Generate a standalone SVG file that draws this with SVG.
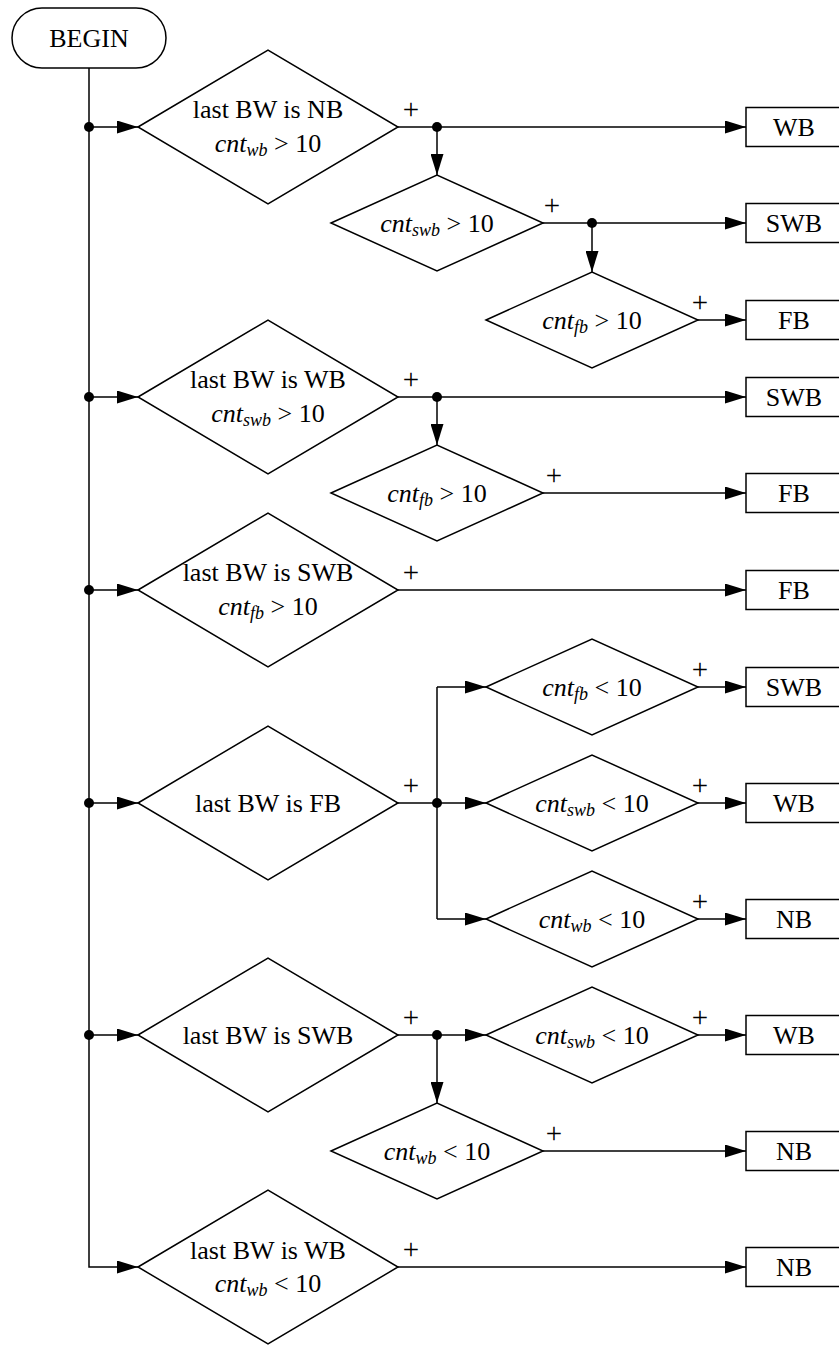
<svg xmlns="http://www.w3.org/2000/svg" width="839" height="1345" viewBox="0 0 839 1345">
<style>
.s{fill:none;stroke:#000;stroke-width:1.5}
.n{fill:#fff;stroke:#000;stroke-width:1.5}
.a{fill:none;stroke:#000;stroke-width:1.5;marker-end:url(#ah)}
text{font-family:"Liberation Serif","Times New Roman",serif;font-size:26px;fill:#000;text-anchor:middle}
.i{font-style:italic}
.sub{font-style:italic;font-size:18px}
.p{font-size:29px}
</style>
<defs>
<marker id="ah" markerUnits="userSpaceOnUse" markerWidth="21" markerHeight="13" refX="21" refY="6.5" orient="auto">
<path d="M0,0 L21,6.5 L0,13 z" fill="#000"/>
</marker>
</defs>
<rect width="839" height="1345" fill="#fff"/>
<g id="connectors">
<path class="s" d="M89,68 V1267 H118"/>
<path class="a" d="M89,127 H138"/>
<path class="a" d="M89,397 H138"/>
<path class="a" d="M89,590 H138"/>
<path class="a" d="M89,803 H138"/>
<path class="a" d="M89,1035 H138"/>
<path class="a" d="M118,1267 H138"/>
<path class="a" d="M398,127 H746"/>
<path class="a" d="M437,127 V175"/>
<path class="a" d="M543,223 H746"/>
<path class="a" d="M592,223 V272"/>
<path class="a" d="M698,320 H746"/>
<path class="a" d="M398,397 H746"/>
<path class="a" d="M437,397 V445"/>
<path class="a" d="M543,493 H746"/>
<path class="a" d="M398,590 H746"/>
<path class="a" d="M398,803 H486"/>
<path class="s" d="M437,687 V919"/>
<path class="a" d="M437,687 H486"/>
<path class="a" d="M437,919 H486"/>
<path class="a" d="M698,687 H746"/>
<path class="a" d="M698,803 H746"/>
<path class="a" d="M698,919 H746"/>
<path class="a" d="M398,1035 H486"/>
<path class="a" d="M437,1035 V1103"/>
<path class="a" d="M698,1035 H746"/>
<path class="a" d="M543,1151 H746"/>
<path class="a" d="M398,1267 H746"/>
<circle cx="89" cy="127" r="5"/>
<circle cx="89" cy="397" r="5"/>
<circle cx="89" cy="590" r="5"/>
<circle cx="89" cy="803" r="5"/>
<circle cx="89" cy="1035" r="5"/>
<circle cx="437" cy="127" r="5"/>
<circle cx="592" cy="223" r="5"/>
<circle cx="437" cy="397" r="5"/>
<circle cx="437" cy="803" r="5"/>
<circle cx="437" cy="1035" r="5"/>
<text class="p" x="411" y="119">+</text>
<text class="p" x="552" y="215">+</text>
<text class="p" x="700" y="312">+</text>
<text class="p" x="411" y="389">+</text>
<text class="p" x="554" y="485">+</text>
<text class="p" x="411" y="582">+</text>
<text class="p" x="700" y="679">+</text>
<text class="p" x="411" y="795">+</text>
<text class="p" x="700" y="795">+</text>
<text class="p" x="700" y="911">+</text>
<text class="p" x="411" y="1027">+</text>
<text class="p" x="700" y="1027">+</text>
<text class="p" x="554" y="1143">+</text>
<text class="p" x="411" y="1259">+</text>
</g>
<g id="begin">
<rect class="n" x="12" y="8" width="154" height="60" rx="30"/>
<text x="89" y="47">BEGIN</text>
</g>
<g id="d1">
<path class="n" d="M138,127 L268,50 L398,127 L268,204 Z"/>
<text x="268" y="118">last BW is NB</text>
<text x="268" y="152"><tspan class="i">cnt</tspan><tspan class="sub" dy="4">wb</tspan><tspan dy="-4"> &gt; 10</tspan></text>
</g>
<g id="d2">
<path class="n" d="M331,223 L437,175 L543,223 L437,271 Z"/>
<text x="437" y="232"><tspan class="i">cnt</tspan><tspan class="sub" dy="4">swb</tspan><tspan dy="-4"> &gt; 10</tspan></text>
</g>
<g id="d3">
<path class="n" d="M486,320 L592,272 L698,320 L592,368 Z"/>
<text x="592" y="329"><tspan class="i">cnt</tspan><tspan class="sub" dy="4">fb</tspan><tspan dy="-4"> &gt; 10</tspan></text>
</g>
<g id="d4">
<path class="n" d="M138,397 L268,320 L398,397 L268,474 Z"/>
<text x="268" y="388">last BW is WB</text>
<text x="268" y="422"><tspan class="i">cnt</tspan><tspan class="sub" dy="4">swb</tspan><tspan dy="-4"> &gt; 10</tspan></text>
</g>
<g id="d5">
<path class="n" d="M331,493 L437,445 L543,493 L437,541 Z"/>
<text x="437" y="502"><tspan class="i">cnt</tspan><tspan class="sub" dy="4">fb</tspan><tspan dy="-4"> &gt; 10</tspan></text>
</g>
<g id="d6">
<path class="n" d="M138,590 L268,513 L398,590 L268,667 Z"/>
<text x="268" y="581">last BW is SWB</text>
<text x="268" y="615"><tspan class="i">cnt</tspan><tspan class="sub" dy="4">fb</tspan><tspan dy="-4"> &gt; 10</tspan></text>
</g>
<g id="d7">
<path class="n" d="M486,687 L592,639 L698,687 L592,735 Z"/>
<text x="592" y="696"><tspan class="i">cnt</tspan><tspan class="sub" dy="4">fb</tspan><tspan dy="-4"> &lt; 10</tspan></text>
</g>
<g id="d8">
<path class="n" d="M138,803 L268,726 L398,803 L268,880 Z"/>
<text x="268" y="812">last BW is FB</text>
</g>
<g id="d9">
<path class="n" d="M486,803 L592,755 L698,803 L592,851 Z"/>
<text x="592" y="812"><tspan class="i">cnt</tspan><tspan class="sub" dy="4">swb</tspan><tspan dy="-4"> &lt; 10</tspan></text>
</g>
<g id="d10">
<path class="n" d="M486,919 L592,871 L698,919 L592,967 Z"/>
<text x="592" y="928"><tspan class="i">cnt</tspan><tspan class="sub" dy="4">wb</tspan><tspan dy="-4"> &lt; 10</tspan></text>
</g>
<g id="d11">
<path class="n" d="M138,1035 L268,958 L398,1035 L268,1112 Z"/>
<text x="268" y="1044">last BW is SWB</text>
</g>
<g id="d12">
<path class="n" d="M486,1035 L592,987 L698,1035 L592,1083 Z"/>
<text x="592" y="1044"><tspan class="i">cnt</tspan><tspan class="sub" dy="4">swb</tspan><tspan dy="-4"> &lt; 10</tspan></text>
</g>
<g id="d13">
<path class="n" d="M331,1151 L437,1103 L543,1151 L437,1199 Z"/>
<text x="437" y="1160"><tspan class="i">cnt</tspan><tspan class="sub" dy="4">wb</tspan><tspan dy="-4"> &lt; 10</tspan></text>
</g>
<g id="d14">
<path class="n" d="M138,1267 L268,1190 L398,1267 L268,1344 Z"/>
<text x="268" y="1259">last BW is WB</text>
<text x="268" y="1292"><tspan class="i">cnt</tspan><tspan class="sub" dy="4">wb</tspan><tspan dy="-4"> &lt; 10</tspan></text>
</g>
<g id="b1"><rect class="n" x="746" y="107.5" width="96" height="39"/><text x="794" y="136">WB</text></g>
<g id="b2"><rect class="n" x="746" y="203.5" width="96" height="39"/><text x="794" y="232">SWB</text></g>
<g id="b3"><rect class="n" x="746" y="300.5" width="96" height="39"/><text x="794" y="329">FB</text></g>
<g id="b4"><rect class="n" x="746" y="377.5" width="96" height="39"/><text x="794" y="406">SWB</text></g>
<g id="b5"><rect class="n" x="746" y="473.5" width="96" height="39"/><text x="794" y="502">FB</text></g>
<g id="b6"><rect class="n" x="746" y="570.5" width="96" height="39"/><text x="794" y="599">FB</text></g>
<g id="b7"><rect class="n" x="746" y="667.5" width="96" height="39"/><text x="794" y="696">SWB</text></g>
<g id="b8"><rect class="n" x="746" y="783.5" width="96" height="39"/><text x="794" y="812">WB</text></g>
<g id="b9"><rect class="n" x="746" y="899.5" width="96" height="39"/><text x="794" y="928">NB</text></g>
<g id="b10"><rect class="n" x="746" y="1015.5" width="96" height="39"/><text x="794" y="1044">WB</text></g>
<g id="b11"><rect class="n" x="746" y="1131.5" width="96" height="39"/><text x="794" y="1160">NB</text></g>
<g id="b12"><rect class="n" x="746" y="1247.5" width="96" height="39"/><text x="794" y="1276">NB</text></g>
</svg>
